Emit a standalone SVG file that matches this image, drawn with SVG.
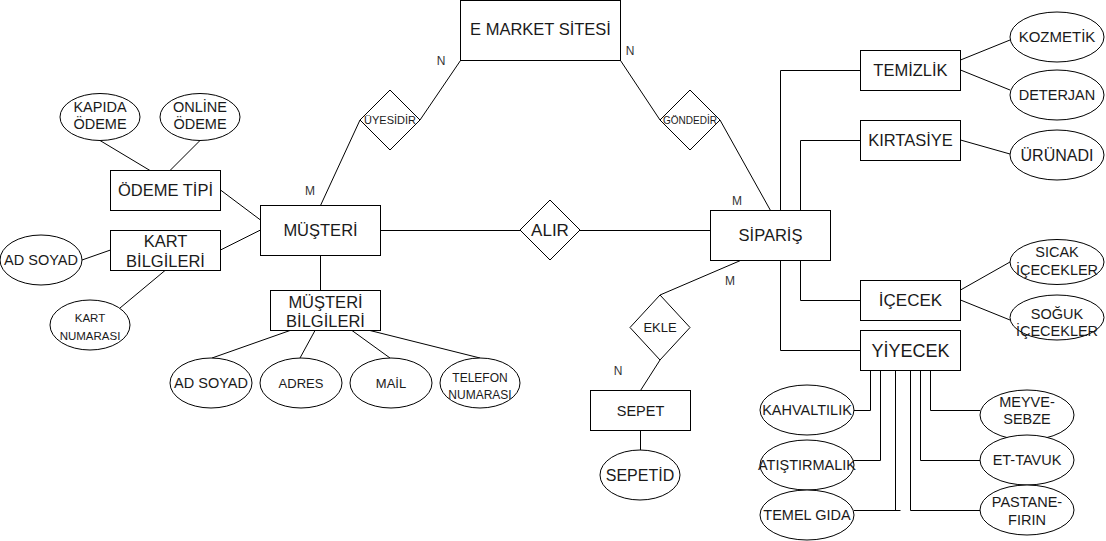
<svg xmlns="http://www.w3.org/2000/svg" width="1106" height="541" viewBox="0 0 1106 541">
<style>
  rect, ellipse, polygon { fill: #ffffff; stroke: #000000; stroke-width: 1; }
  .c path, .c line { fill: none; stroke: #000000; stroke-width: 1; }
  text { font-family: "Liberation Sans", Arial, sans-serif; fill: #1a1a1a; text-anchor: middle; }
  .b { font-size: 16.5px; }
  .e { font-size: 14.5px; }
  .lbl { font-size: 12px; fill: #333333; }
</style>
<rect x="0" y="0" width="1106" height="541" style="fill:#ffffff;stroke:none"/>
<g class="c" id="connectors">
  <line x1="460.5" y1="60.5" x2="420" y2="120"/>
  <line x1="360" y1="120" x2="320.5" y2="205.5"/>
  <line x1="620.5" y1="60.5" x2="660" y2="120"/>
  <line x1="720" y1="120" x2="770.5" y2="210.5"/>
  <line x1="380.5" y1="230.5" x2="520" y2="230.5"/>
  <line x1="580" y1="230.5" x2="710.5" y2="230.5"/>
  <line x1="740.5" y1="260.5" x2="660" y2="295"/>
  <line x1="660" y1="360" x2="640.5" y2="390.5"/>
  <line x1="640.5" y1="430.5" x2="640.5" y2="450"/>
  <line x1="320.5" y1="255.5" x2="320.5" y2="290.5"/>
  <line x1="290" y1="330.5" x2="212" y2="358"/>
  <line x1="315" y1="330.5" x2="300" y2="358"/>
  <line x1="352" y1="330.5" x2="390" y2="358"/>
  <line x1="370" y1="330.5" x2="480" y2="358"/>
  <line x1="100" y1="140.5" x2="150" y2="170.5"/>
  <line x1="200" y1="140.5" x2="170" y2="170.5"/>
  <line x1="220.5" y1="190" x2="260.5" y2="220"/>
  <line x1="220.5" y1="250" x2="260.5" y2="230"/>
  <line x1="82" y1="260" x2="110.5" y2="250"/>
  <line x1="165" y1="270.5" x2="120" y2="308"/>
  <line x1="960.5" y1="60" x2="1010" y2="40"/>
  <line x1="960.5" y1="70" x2="1010" y2="90"/>
  <line x1="960.5" y1="140" x2="1010" y2="154"/>
  <line x1="960.5" y1="290" x2="1010" y2="262"/>
  <line x1="960.5" y1="300" x2="1010" y2="320"/>
  <path d="M780.5 210.5 V70.5 H860.5"/>
  <path d="M800.5 210.5 V140.5 H860.5"/>
  <path d="M800.5 260.5 V300.5 H860.5"/>
  <path d="M780.5 260.5 V350.5 H860.5"/>
  <path d="M870.5 370.5 V410.5 H854"/>
  <path d="M880.5 370.5 V460.5 H854"/>
  <path d="M895.5 370.5 V510.5"/>
  <path d="M854 510.5 H900.5"/>
  <path d="M930.5 370.5 V410.5 H980"/>
  <path d="M920.5 370.5 V460.5 H980"/>
  <path d="M910.5 370.5 V510.5 H980"/>
</g>
<g id="labels">
  <text class="lbl" x="441" y="65">N</text>
  <text class="lbl" x="630" y="55">N</text>
  <text class="lbl" x="310" y="195">M</text>
  <text class="lbl" x="737" y="205">M</text>
  <text class="lbl" x="730" y="285">M</text>
  <text class="lbl" x="618" y="375">N</text>
</g>
<g id="emarket"><rect x="460.5" y="0.5" width="160" height="60"/><text class="b" x="540.5" y="35">E MARKET SİTESİ</text></g>
<g id="musteri"><rect x="260.5" y="205.5" width="120" height="50"/><text class="b" x="320.5" y="236">MÜŞTERİ</text></g>
<g id="siparis"><rect x="710.5" y="210.5" width="120" height="50"/><text class="b" x="770.5" y="241">SİPARİŞ</text></g>
<g id="odemetipi"><rect x="110.5" y="170.5" width="110" height="40"/><text class="b" x="165.5" y="196">ÖDEME TİPİ</text></g>
<g id="kartbilgileri"><rect x="110.5" y="230.5" width="110" height="40"/><text class="b" x="165.5" y="247">KART</text><text class="b" x="165.5" y="267">BİLGİLERİ</text></g>
<g id="musteribilgileri"><rect x="270.5" y="290.5" width="110" height="40"/><text class="b" x="325.5" y="308">MÜŞTERİ</text><text class="b" x="325.5" y="327">BİLGİLERİ</text></g>
<g id="sepet"><rect x="590.5" y="390.5" width="100" height="40"/><text x="640.5" y="416" style="font-size:14.5px">SEPET</text></g>
<g id="temizlik"><rect x="860.5" y="50.5" width="100" height="40"/><text class="b" x="910.5" y="76">TEMİZLİK</text></g>
<g id="kirtasiye"><rect x="860.5" y="120.5" width="100" height="40"/><text class="b" x="910.5" y="146">KIRTASİYE</text></g>
<g id="icecek"><rect x="860.5" y="280.5" width="100" height="40"/><text x="910.5" y="306" style="font-size:17px">İÇECEK</text></g>
<g id="yiyecek"><rect x="860.5" y="330.5" width="100" height="40"/><text x="910.5" y="357" style="font-size:18px">YİYECEK</text></g>
<g id="uyesidir"><polygon points="390,90 420,120 390,150 360,120"/><text x="390" y="124" style="font-size:11px">ÜYESİDİR</text></g>
<g id="gondedir"><polygon points="690,90 720,120 690,150 660,120"/><text x="690" y="124" style="font-size:10px">GÖNDEDİR</text></g>
<g id="alir"><polygon points="550,200 580,230 550,260 520,230"/><text x="550" y="236" style="font-size:17px">ALIR</text></g>
<g id="ekle"><polygon points="660,295 690,327.5 660,360 630,327.5"/><text x="660" y="332" style="font-size:13px">EKLE</text></g>
<g id="kapida"><ellipse cx="100" cy="117" rx="40" ry="23.5"/><text class="e" x="100" y="112">KAPIDA</text><text class="e" x="100" y="129">ÖDEME</text></g>
<g id="online"><ellipse cx="200" cy="117" rx="40" ry="23.5"/><text class="e" x="200" y="112">ONLİNE</text><text class="e" x="200" y="129">ÖDEME</text></g>
<g id="adsoyad1"><ellipse cx="41" cy="260" rx="41" ry="25"/><text class="e" x="41" y="265">AD SOYAD</text></g>
<g id="kartnumarasi"><ellipse cx="90" cy="325" rx="40" ry="25"/><text x="90" y="322" style="font-size:11.5px">KART</text><text x="90" y="340" style="font-size:11.5px">NUMARASI</text></g>
<g id="adsoyad2"><ellipse cx="211" cy="383" rx="41" ry="25"/><text class="e" x="211" y="388">AD SOYAD</text></g>
<g id="adres"><ellipse cx="301" cy="383" rx="41" ry="25"/><text x="301" y="388" style="font-size:13px">ADRES</text></g>
<g id="mail"><ellipse cx="391" cy="383" rx="41" ry="25"/><text x="391" y="388" style="font-size:13px">MAİL</text></g>
<g id="telefon"><ellipse cx="480" cy="383" rx="40" ry="25"/><text x="480" y="382" style="font-size:12px">TELEFON</text><text x="480" y="399" style="font-size:12px">NUMARASI</text></g>
<g id="sepetid"><ellipse cx="640" cy="475" rx="40" ry="25"/><text x="640" y="481" style="font-size:16px">SEPETİD</text></g>
<g id="kozmetik"><ellipse cx="1057" cy="37" rx="47" ry="25"/><text x="1057" y="42" style="font-size:15px">KOZMETİK</text></g>
<g id="deterjan"><ellipse cx="1057" cy="95" rx="47" ry="25"/><text class="e" x="1057" y="100">DETERJAN</text></g>
<g id="urunadi"><ellipse cx="1057" cy="155" rx="47" ry="25"/><text x="1057" y="161" style="font-size:16px">ÜRÜNADI</text></g>
<g id="sicak"><ellipse cx="1057" cy="262" rx="47" ry="22.5"/><text class="e" x="1057" y="257">SICAK</text><text class="e" x="1057" y="275">İÇECEKLER</text></g>
<g id="soguk"><ellipse cx="1057" cy="317.5" rx="47" ry="22.5"/><text class="e" x="1057" y="319">SOĞUK</text><text class="e" x="1057" y="336">İÇECEKLER</text></g>
<g id="kahvaltilik"><ellipse cx="807" cy="410" rx="47" ry="25"/><text class="e" x="807" y="415">KAHVALTILIK</text></g>
<g id="atistirmalik"><ellipse cx="807" cy="465" rx="47" ry="25"/><text class="e" x="807" y="470">ATIŞTIRMALIK</text></g>
<g id="temelgida"><ellipse cx="807" cy="515" rx="47" ry="25"/><text class="e" x="807" y="520">TEMEL GIDA</text></g>
<g id="meyvesebze"><ellipse cx="1027" cy="415" rx="47" ry="25"/><text class="e" x="1027" y="407">MEYVE-</text><text class="e" x="1027" y="424">SEBZE</text></g>
<g id="ettavuk"><ellipse cx="1027" cy="460" rx="47" ry="25"/><text class="e" x="1027" y="465">ET-TAVUK</text></g>
<g id="pastanefirin"><ellipse cx="1027" cy="510" rx="47" ry="25"/><text class="e" x="1027" y="507">PASTANE-</text><text class="e" x="1027" y="525">FIRIN</text></g>
</svg>
